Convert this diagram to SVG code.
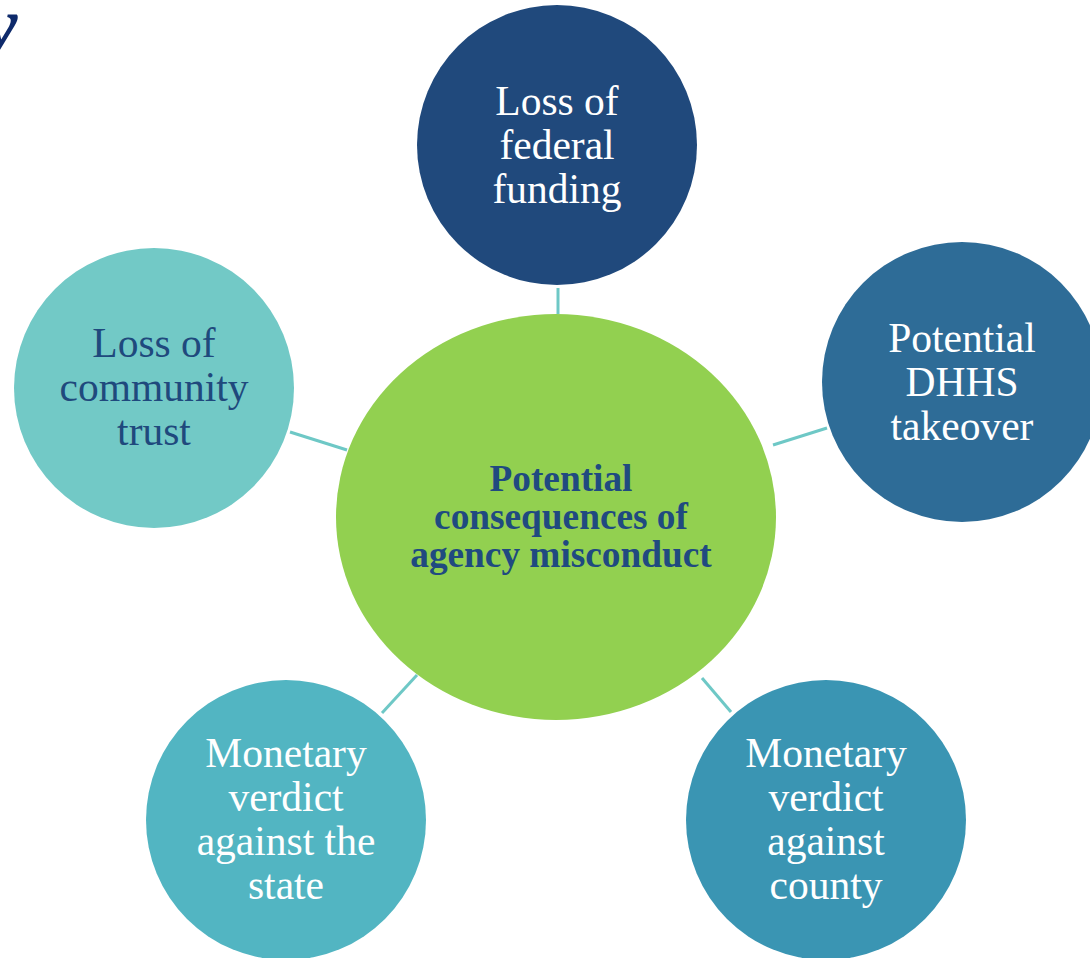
<svg xmlns="http://www.w3.org/2000/svg" width="1090" height="958" viewBox="0 0 1090 958">
<style>
.outer{font-family:"Liberation Serif","Times New Roman",serif;font-size:41.5px;text-anchor:middle;fill:#ffffff}
.dark{fill:#1f497d}
.center{font-family:"Liberation Serif","Times New Roman",serif;font-size:37.3px;font-weight:bold;text-anchor:middle;fill:#204a80}
.conn{stroke:#6ec8c6;stroke-width:3;fill:none}
</style>
<rect width="1090" height="958" fill="#ffffff"/>
<text x="-18" y="52" font-family="Liberation Serif, serif" font-size="80" font-style="italic" font-weight="bold" fill="#0e2a6b">y</text>
<g id="connectors">
<line class="conn" x1="558" y1="288" x2="558" y2="314"/>
<line class="conn" x1="290" y1="432" x2="347" y2="450"/>
<line class="conn" x1="773" y1="445" x2="827" y2="428"/>
<line class="conn" x1="382" y1="713" x2="417" y2="675"/>
<line class="conn" x1="702" y1="678" x2="731" y2="712"/>
</g>
<g id="center">
<ellipse cx="556" cy="517" rx="220" ry="203" fill="#92d050"/>
<text class="center"><tspan x="561" y="491">Potential</tspan><tspan x="561" y="529">consequences of</tspan><tspan x="561" y="567">agency misconduct</tspan></text>
</g>
<g id="top">
<circle cx="557" cy="145" r="140" fill="#20497c"/>
<text class="outer"><tspan x="557" y="115">Loss of</tspan><tspan x="557" y="159">federal</tspan><tspan x="557" y="203">funding</tspan></text>
</g>
<g id="right">
<circle cx="962" cy="382" r="140" fill="#2e6c97"/>
<text class="outer"><tspan x="962" y="352">Potential</tspan><tspan x="962" y="396">DHHS</tspan><tspan x="962" y="440">takeover</tspan></text>
</g>
<g id="left">
<circle cx="154" cy="388" r="140" fill="#72c9c6"/>
<text class="outer dark"><tspan x="154" y="357">Loss of</tspan><tspan x="154" y="401">community</tspan><tspan x="154" y="445">trust</tspan></text>
</g>
<g id="bottom-left">
<circle cx="286" cy="820" r="140" fill="#52b5c2"/>
<text class="outer"><tspan x="286" y="767">Monetary</tspan><tspan x="286" y="811">verdict</tspan><tspan x="286" y="855">against the</tspan><tspan x="286" y="899">state</tspan></text>
</g>
<g id="bottom-right">
<circle cx="826" cy="820" r="140" fill="#3a95b3"/>
<text class="outer"><tspan x="826" y="767">Monetary</tspan><tspan x="826" y="811">verdict</tspan><tspan x="826" y="855">against</tspan><tspan x="826" y="899">county</tspan></text>
</g>
</svg>
